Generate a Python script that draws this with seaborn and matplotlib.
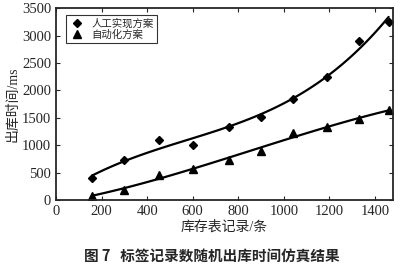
import matplotlib
matplotlib.use('Agg')
import matplotlib.pyplot as plt
import seaborn as sns
import numpy as np
import pandas as pd

# 库存表记录 (x) and 出库时间 (y, ms)
records = [160, 300, 450, 600, 760, 900, 1040, 1190, 1330, 1460]
manual_ms = [400, 720, 1100, 1000, 1330, 1520, 1850, 2250, 2900, 3250]
auto_ms = [80, 180, 450, 570, 730, 900, 1230, 1330, 1470, 1640]
series_names = ['人工实现方案', '自动化方案']

sns.set_style('ticks')
plt.rcParams['font.family'] = ['Liberation Serif', 'Noto Sans CJK SC', 'DejaVu Sans']
plt.rcParams['axes.unicode_minus'] = False

df = pd.DataFrame({
    'x': records * 2,
    'y': manual_ms + auto_ms,
    'name': [series_names[0]] * len(records) + [series_names[1]] * len(records),
})

fig = plt.figure(figsize=(4, 2.72), dpi=100)
ax = fig.add_axes([0.14, 0.265, 0.843, 0.705])

markers = {series_names[0]: 'D', series_names[1]: '^'}
sizes = {series_names[0]: 4, series_names[1]: 6}
for name in series_names:
    sub = df[df['name'] == name]
    sns.regplot(data=sub, x='x', y='y', order=3, ci=None, ax=ax, truncate=True,
                scatter=False, line_kws={'color': 'black', 'lw': 1.6})
    ax.plot(sub['x'], sub['y'], linestyle='none', marker=markers[name],
            ms=sizes[name], color='black', label=name)

ax.set_xlim(0, 1480)
ax.set_ylim(0, 3500)
ax.set_xticks(range(0, 1401, 200))
ax.set_yticks(range(0, 3501, 500))
ax.tick_params(direction='in', top=True, right=True, labelsize=10.5, length=3)
for s in ax.spines.values():
    s.set_linewidth(1.3)
ax.set_xlabel('库存表记录/条', fontsize=10, labelpad=2)
ax.set_ylabel('出库时间/ms', fontsize=10, labelpad=2)

leg = ax.legend(loc='upper left', bbox_to_anchor=(0.015, 0.99), frameon=True, fancybox=False,
                edgecolor='black', borderpad=0.25, labelspacing=0.15,
                handletextpad=0.6, handlelength=1.6,
                prop={'family': ['Noto Sans CJK SC'], 'size': 7.5})
leg.get_frame().set_linewidth(0.8)

fig.text(0.53, 0.03, '图 7   标签记录数随机出库时间仿真结果', ha='center', va='bottom',
         fontsize=10.5, fontweight='bold', family=['Noto Sans CJK SC', 'DejaVu Sans'])

fig.savefig('out.png', dpi=100)
